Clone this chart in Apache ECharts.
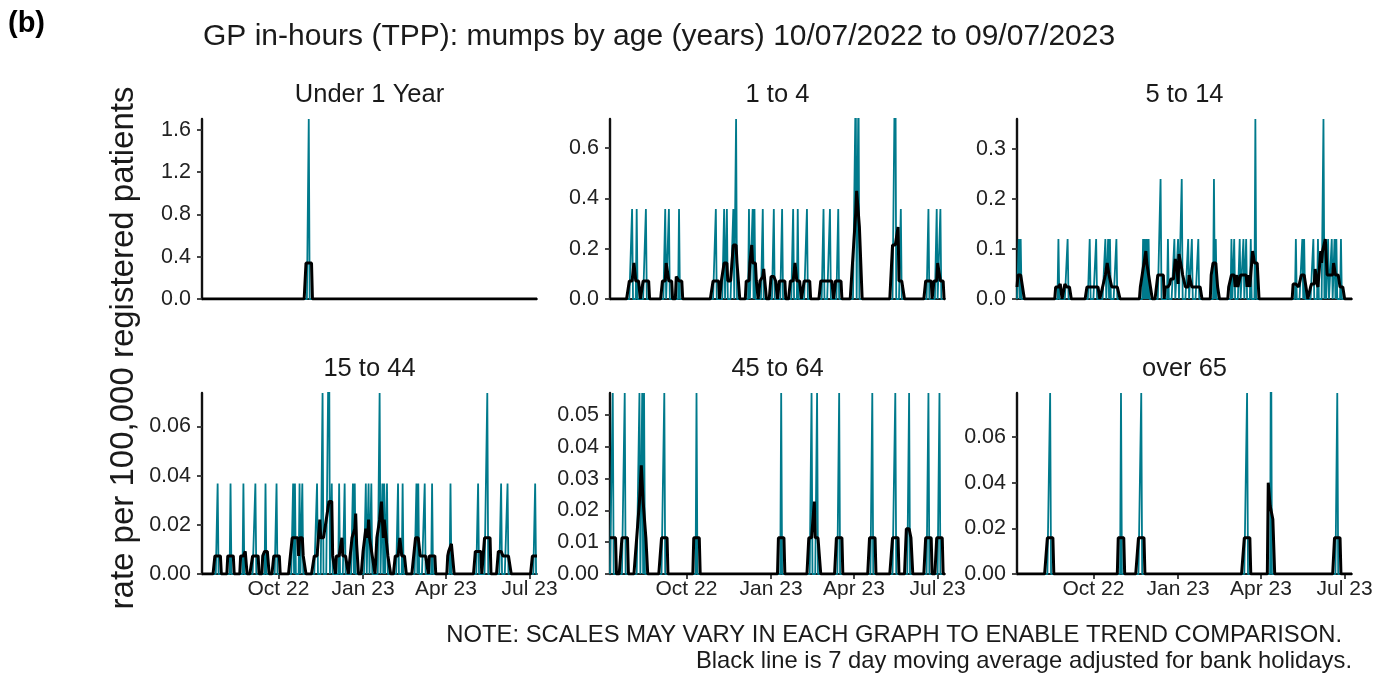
<!DOCTYPE html>
<html><head><meta charset="utf-8">
<script src="https://cdn.jsdelivr.net/npm/echarts@6/dist/echarts.min.js"></script>
<style>html,body{margin:0;padding:0;background:#fff}#chart{width:1386px;height:675px}</style>
</head><body><div id="chart"></div>
<script>
// ---------------- DATA ----------------
const startDate = '2022-07-10';   // day 0
const numDays = 365;              // 10/07/2022 .. 09/07/2023
const panelTitles = ['Under 1 Year', '1 to 4', '5 to 14', '15 to 44', '45 to 64', 'over 65'];

// Days (since 10/07/2022) with consultations and the daily rate per 100,000 on that day
const under1Days  = [116];
const under1Rates = [1.70];

const age1to4Days  = [24, 29, 39, 60, 64, 75, 115, 124, 127, 134, 137, 151, 155, 157, 166, 178, 187, 199, 204, 214, 232, 239, 248, 267, 270, 310, 316, 346, 355, 359];
const age1to4Rates = [0.358, 0.358, 0.358, 0.358, 0.358, 0.358, 0.358, 0.358, 0.358, 0.358, 0.716, 0.358, 0.358, 0.358, 0.358, 0.358, 0.358, 0.358, 0.358, 0.358, 0.358, 0.358, 0.358, 0.86, 0.86, 1.073, 0.358, 0.358, 0.358, 0.358];

const age5to14Days  = [2, 4, 45, 55, 79, 86, 96, 99, 101, 108, 137, 139, 141, 143, 156, 164, 171, 175, 179, 186, 190, 197, 214, 216, 233, 236, 242, 246, 249, 254, 259, 303, 310, 312, 322, 327, 333, 335, 338, 342, 345, 347, 352];
const age5to14Rates = [0.12, 0.12, 0.12, 0.12, 0.12, 0.12, 0.12, 0.12, 0.12, 0.12, 0.12, 0.12, 0.12, 0.12, 0.24, 0.12, 0.12, 0.12, 0.24, 0.12, 0.12, 0.12, 0.24, 0.12, 0.12, 0.12, 0.12, 0.12, 0.12, 0.12, 0.36, 0.12, 0.12, 0.12, 0.12, 0.12, 0.36, 0.12, 0.12, 0.12, 0.12, 0.12, 0.12];

const age15to44Days  = [17, 31, 45, 58, 69, 81, 99, 101, 106, 109, 125, 131, 138, 141, 149, 155, 164, 166, 178, 181, 184, 193, 196, 198, 201, 213, 218, 233, 235, 242, 250, 270, 300, 310, 325, 332, 362];
const age15to44Rates = [0.0368, 0.0368, 0.0368, 0.0368, 0.0368, 0.0368, 0.0368, 0.0368, 0.0368, 0.0368, 0.0368, 0.0736, 0.1104, 0.0368, 0.0368, 0.0368, 0.0368, 0.0368, 0.0368, 0.0368, 0.0368, 0.0736, 0.0368, 0.0368, 0.0368, 0.0368, 0.0368, 0.0368, 0.0368, 0.0368, 0.0368, 0.0368, 0.0368, 0.0736, 0.0368, 0.0368, 0.0368];

const age45to64Days  = [3, 16, 32, 35, 37, 59, 94, 186, 219, 225, 249, 285, 310, 325, 346, 358];
const age45to64Rates = [0.057, 0.057, 0.057, 0.057, 0.057, 0.057, 0.057, 0.057, 0.057, 0.057, 0.057, 0.057, 0.057, 0.057, 0.057, 0.057];

const over65Days  = [36, 113, 135, 250, 276, 348];
const over65Rates = [0.0793, 0.0793, 0.0793, 0.0793, 0.12, 0.0793];

const bankHolidays = ['2022-08-29', '2022-09-19', '2022-12-26', '2022-12-27', '2023-01-02', '2023-04-07', '2023-04-10', '2023-05-01', '2023-05-08', '2023-05-29'];

const xTickDates  = ['2022-10-01', '2023-01-01', '2023-04-01', '2023-07-01'];
const xTickLabels = ['Oct 22', 'Jan 23', 'Apr 23', 'Jul 23'];

const yTicksUnder1 = [0, 0.4, 0.8, 1.2, 1.6];
const yTicks1to4   = [0, 0.2, 0.4, 0.6];
const yTicks5to14  = [0, 0.1, 0.2, 0.3];
const yTicks15to44 = [0, 0.02, 0.04, 0.06];
const yTicks45to64 = [0, 0.01, 0.02, 0.03, 0.04, 0.05];
const yTicksOver65 = [0, 0.02, 0.04, 0.06];
const yMaxes = [1.70, 0.716, 0.36, 0.0736, 0.057, 0.0793];
const yDecimals = [1, 1, 1, 2, 2, 2];

// ---------------- BUILD ----------------
const DAY = 86400000;
const t0 = Date.parse(startDate + 'T00:00:00Z');
const dayIndex = s => Math.round((Date.parse(s + 'T00:00:00Z') - t0) / DAY);
const bhSet = new Set(bankHolidays.map(dayIndex));
const isWorking = d => { const w = ((d % 7) + 7) % 7; return w >= 1 && w <= 5 && !bhSet.has(d); }; // day 0 = Sunday

function dailySeries(days, rates) {
  const arr = new Array(numDays).fill(0);
  days.forEach((d, i) => { arr[d] += rates[i]; });
  return arr;
}
// 7 day (centred) moving average over working days, adjusted for bank holidays
function movingAverage(daily) {
  return daily.map((_, d) => {
    let s = 0, n = 0;
    for (let k = d - 3; k <= d + 3; k++) {
      if (isWorking(k)) n++;
      if (k >= 0 && k < numDays) s += daily[k];
    }
    return n ? s / n : 0;
  });
}

const panelDays  = [under1Days, age1to4Days, age5to14Days, age15to44Days, age45to64Days, over65Days];
const panelRates = [under1Rates, age1to4Rates, age5to14Rates, age15to44Rates, age45to64Rates, over65Rates];
const panelTicks = [yTicksUnder1, yTicks1to4, yTicks5to14, yTicks15to44, yTicks45to64, yTicksOver65];
const xTickDays = xTickDates.map(dayIndex);

// layout
const colLeft = [202, 610, 1017];
const plotW = 335;
const rowTop = [119, 393];
const plotH = [180, 181];
const FONT = "'Liberation Sans', Arial, Helvetica, sans-serif";
const TEAL = '#007A8C';

const grid = [], xAxis = [], yAxis = [], series = [], graphic = [];
for (let p = 0; p < 6; p++) {
  const r = Math.floor(p / 3), c = p % 3;
  grid.push({ left: colLeft[c], top: rowTop[r], width: plotW, height: plotH[r], containLabel: false });
  const bottom = r === 1;
  xAxis.push({
    gridIndex: p, type: 'value', min: 0, max: numDays - 1,
    axisLine: { show: true, onZero: false, lineStyle: { color: '#222', width: 1.8 } },
    axisTick: { show: bottom, length: 5, customValues: xTickDays, lineStyle: { color: '#333', width: 1.8 } },
    axisLabel: { show: bottom, customValues: xTickDays, margin: 5, fontSize: 21, fontFamily: FONT, color: '#222',
      formatter: v => xTickLabels[xTickDays.indexOf(v)] || '' },
    splitLine: { show: false }
  });
  const dec = yDecimals[p];
  yAxis.push({
    gridIndex: p, type: 'value', min: 0, max: yMaxes[p],
    axisLine: { show: true, lineStyle: { color: '#111', width: 2.4 } },
    axisTick: { show: true, length: 5, customValues: panelTicks[p], lineStyle: { color: '#333', width: 1.8 } },
    axisLabel: { customValues: panelTicks[p], margin: 11, fontSize: 21.5, fontFamily: FONT, color: '#222',
      formatter: v => Number(v).toFixed(dec) },
    splitLine: { show: false }
  });
  const daily = dailySeries(panelDays[p], panelRates[p]);
  const ma = movingAverage(daily);
  series.push({
    type: 'line', xAxisIndex: p, yAxisIndex: p, showSymbol: false, symbol: 'none', clip: true,
    data: daily.map((v, d) => [d, v]), lineStyle: { color: TEAL, width: 1.8 }, z: 2, animation: false
  });
  series.push({
    type: 'line', xAxisIndex: p, yAxisIndex: p, showSymbol: false, symbol: 'none', clip: true,
    data: ma.map((v, d) => [d, v]), lineStyle: { color: '#000', width: 3 }, z: 3, animation: false
  });
  graphic.push({ type: 'text', x: colLeft[c] + plotW / 2, y: r === 0 ? 95 : 369,
    style: { text: panelTitles[p], font: '25.5px ' + FONT, fill: '#1a1a1a', textAlign: 'center', textVerticalAlign: 'middle' } });
}
graphic.push({ type: 'text', x: 8, y: 24, style: { text: '(b)', font: 'bold 29px ' + FONT, fill: '#000', textAlign: 'left', textVerticalAlign: 'middle' } });
graphic.push({ type: 'text', x: 203, y: 37, style: { text: 'GP in-hours (TPP): mumps by age (years) 10/07/2022 to 09/07/2023', font: '30px ' + FONT, fill: '#1a1a1a', textAlign: 'left', textVerticalAlign: 'middle' } });
graphic.push({ type: 'text', x: 124, y: 348, rotation: Math.PI / 2, style: { text: 'rate per 100,000 registered patients', font: '33px ' + FONT, fill: '#1a1a1a', textAlign: 'center', textVerticalAlign: 'middle' } });
graphic.push({ type: 'text', x: 1342, y: 635, style: { text: 'NOTE: SCALES MAY VARY IN EACH GRAPH TO ENABLE TREND COMPARISON.', font: '23.8px ' + FONT, fill: '#1a1a1a', textAlign: 'right', textVerticalAlign: 'middle' } });
graphic.push({ type: 'text', x: 1352, y: 661, style: { text: 'Black line is 7 day moving average adjusted for bank holidays.', font: '23.8px ' + FONT, fill: '#1a1a1a', textAlign: 'right', textVerticalAlign: 'middle' } });

const chart = echarts.init(document.getElementById('chart'), null, { renderer: 'canvas' });
chart.setOption({ backgroundColor: '#fff', animation: false, grid, xAxis, yAxis, series, graphic });
</script></body></html>
